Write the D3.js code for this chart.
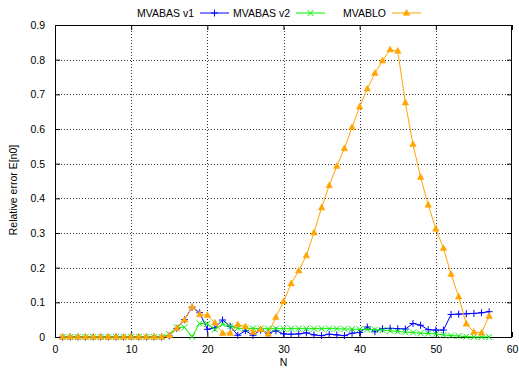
<!DOCTYPE html>
<html>
<head>
<meta charset="utf-8">
<script src="https://cdn.jsdelivr.net/npm/d3@7"></script>
<style>
  html, body { margin: 0; padding: 0; background: #fff; }
  svg { display: block; font-family: "Liberation Sans", Arial, sans-serif; }
</style>
</head>
<body>
<svg id="chart" width="519" height="375"></svg>
<script>
// Problem size N
const N = [1,2,3,4,5,6,7,8,9,10,11,12,13,14,15,16,17,18,19,20,
  21,22,23,24,25,26,27,28,29,30,31,32,33,34,35,36,37,38,39,40,
  41,42,43,44,45,46,47,48,49,50,51,52,53,54,55,56,57];

// Relative error E[n0] per method
const mvabasV1 = [0,0,0,0,0,0,0,0,0,0,0,0,0,0,
  0.003,0.025,0.05,0.086,0.07,0.022,0.027,0.049,0.031,0.005,
  0.018,0.005,0.02,0.011,0.018,0.009,0.008,0.009,0.012,0.006,
  0.004,0.008,0.006,0.004,0.011,0.013,0.029,0.015,0.024,0.025,
  0.024,0.023,0.039,0.034,0.021,0.02,0.02,0.065,0.066,0.067,
  0.068,0.07,0.073];

const mvabasV2 = [0,0,0,0,0,0,0,0,0,0,0,0,0,0,
  0.008,0.028,0.028,0.001,0.039,0.038,0.022,0.037,0.031,0.025,
  0.025,0.025,0.024,0.024,0.024,0.024,0.024,0.024,0.024,0.024,
  0.024,0.024,0.024,0.023,0.023,0.022,0.022,0.021,0.02,0.018,
  0.016,0.014,0.013,0.011,0.01,0.009,0.006,0.004,0.003,0.001,
  0,0,0];

const mvablo = [0,0,0,0,0,0,0,0,0,0,0,0,0,0,
  0.004,0.025,0.049,0.087,0.065,0.063,0.041,0.011,0.011,0.036,
  0.03,0.014,0.022,0.009,0.057,0.102,0.154,0.191,0.235,0.301,
  0.373,0.437,0.493,0.544,0.605,0.664,0.716,0.761,0.797,0.829,
  0.825,0.676,0.556,0.461,0.381,0.312,0.256,0.181,0.116,0.038,
  0.014,0.012,0.06];

const xTicks = [0,10,20,30,40,50,60];
const yTicks = [0,0.1,0.2,0.3,0.4,0.5,0.6,0.7,0.8,0.9];

const seriesNames = ["MVABAS v1", "MVABAS v2", "MVABLO"];
const seriesColors = ["#0000ff", "#00ee00", "#ffa500"];
const seriesMarkers = ["plus", "cross", "triangle"];
const seriesValues = [mvabasV1, mvabasV2, mvablo];

const svg = d3.select("#chart");
const plotL = 55, plotR = 512, plotT = 25, plotB = 337;

const x = d3.scaleLinear().domain([0, 60]).range([plotL, plotR]);
const y = d3.scaleLinear().domain([0, 0.9]).range([plotB, plotT]);

// Dotted grid at inner major ticks
const grid = svg.append("g")
  .attr("stroke", "#333").attr("stroke-width", 1)
  .attr("stroke-dasharray", "1,2").attr("shape-rendering", "crispEdges");
grid.selectAll("line.gx").data(xTicks.slice(1, -1)).join("line")
  .attr("class", "gx")
  .attr("x1", d => Math.round(x(d)) + 0.5).attr("x2", d => Math.round(x(d)) + 0.5)
  .attr("y1", plotT).attr("y2", plotB);
grid.selectAll("line.gy").data(yTicks.slice(1, -1)).join("line")
  .attr("class", "gy")
  .attr("x1", plotL).attr("x2", plotR)
  .attr("y1", d => Math.round(y(d)) + 0.5).attr("y2", d => Math.round(y(d)) + 0.5);

// Axes with inward ticks on all four sides
const tickLen = 5;
const axB = svg.append("g").attr("transform", `translate(0,${plotB})`)
  .call(d3.axisBottom(x).tickValues(xTicks).tickSize(-tickLen).tickPadding(tickLen + 4).tickFormat(d3.format("d")));
const axT = svg.append("g").attr("transform", `translate(0,${plotT})`)
  .call(d3.axisTop(x).tickValues(xTicks).tickSize(-tickLen).tickFormat(""));
const axL = svg.append("g").attr("transform", `translate(${plotL},0)`)
  .call(d3.axisLeft(y).tickValues(yTicks).tickSize(-tickLen).tickPadding(tickLen + 5)
    .tickFormat(d => d === 0 ? "0" : d3.format(".1f")(d)));
const axR = svg.append("g").attr("transform", `translate(${plotR},0)`)
  .call(d3.axisRight(y).tickValues(yTicks).tickSize(-tickLen).tickFormat(""));
[axB, axT, axL, axR].forEach(a => {
  a.select(".domain").remove();
  a.selectAll(".tick line").attr("stroke", "#000");
  a.selectAll("text").attr("font-size", "10.5px").attr("fill", "#000")
    .attr("font-family", "'Liberation Sans', Arial, sans-serif");
});

// Frame
svg.append("rect")
  .attr("x", plotL + 0.5).attr("y", plotT + 0.5)
  .attr("width", plotR - plotL - 1).attr("height", plotB - plotT)
  .attr("fill", "none").attr("stroke", "#000").attr("stroke-width", 1);

// Axis titles
svg.append("text").attr("x", (plotL + plotR) / 2).attr("y", 366)
  .attr("text-anchor", "middle").attr("font-size", "10.5px").text("N");
svg.append("text")
  .attr("transform", `translate(17,${(plotT + plotB) / 2 + 9}) rotate(-90)`)
  .attr("text-anchor", "middle").attr("font-size", "10.5px").text("Relative error E[n0]");

function drawMarker(g, kind, cx, cy, color) {
  if (kind === "plus") {
    g.append("path").attr("d", `M${cx - 3.5},${cy}H${cx + 3.5}M${cx},${cy - 3.5}V${cy + 3.5}`)
      .attr("stroke", color).attr("stroke-width", 1).attr("fill", "none");
  } else if (kind === "cross") {
    g.append("path").attr("d", `M${cx - 3},${cy - 3}L${cx + 3},${cy + 3}M${cx - 3},${cy + 3}L${cx + 3},${cy - 3}`)
      .attr("stroke", color).attr("stroke-width", 1).attr("fill", "none");
  } else {
    g.append("path").attr("d", `M${cx},${cy - 3.6}L${cx + 3.3},${cy + 2.3}L${cx - 3.3},${cy + 2.3}Z`)
      .attr("fill", color).attr("stroke", color).attr("stroke-width", 0.5);
  }
}

// Data series: line + point markers
const line = d3.line().x(d => x(d[0])).y(d => y(d[1]));
seriesValues.forEach((vals, i) => {
  const pts = N.map((n, j) => [n, vals[j]]);
  const g = svg.append("g");
  g.append("path").datum(pts).attr("d", line)
    .attr("fill", "none").attr("stroke", seriesColors[i]).attr("stroke-width", 1);
  pts.forEach(p => drawMarker(g, seriesMarkers[i], x(p[0]), y(p[1]), seriesColors[i]));
});

// Legend: right-aligned label followed by a line sample
const legendY = 13;
const legendEnds = [194, 290, 386];
seriesNames.forEach((name, i) => {
  const g = svg.append("g");
  const tx = legendEnds[i];
  g.append("text").attr("x", tx).attr("y", legendY + 4)
    .attr("text-anchor", "end").attr("font-size", "10.5px").text(name);
  const x1 = tx + 6, x2 = tx + 35;
  g.append("line").attr("x1", x1).attr("x2", x2).attr("y1", legendY).attr("y2", legendY)
    .attr("stroke", seriesColors[i]).attr("stroke-width", 1);
  drawMarker(g, seriesMarkers[i], (x1 + x2) / 2, legendY, seriesColors[i]);
});
</script>
</body>
</html>
